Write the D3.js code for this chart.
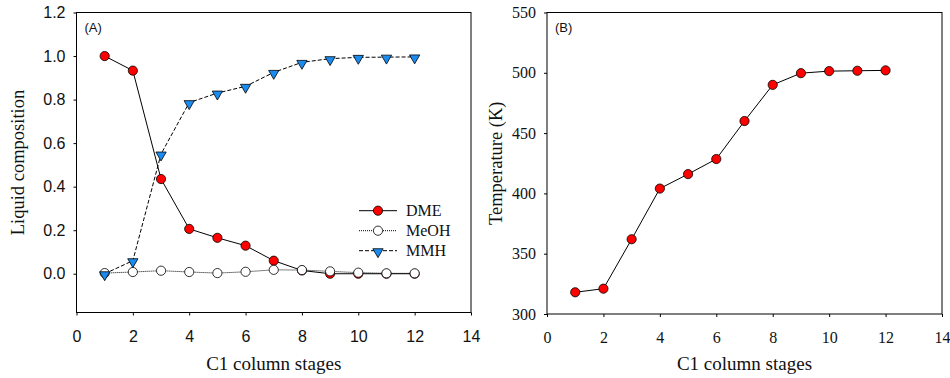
<!DOCTYPE html>
<html>
<head>
<meta charset="utf-8">
<script src="https://cdn.jsdelivr.net/npm/d3@7"></script>
<style>
  body { margin: 0; background: #fff; }
  svg { display: block; }
  .serif { font-family: "Liberation Serif", "Times New Roman", serif; }
  .sans { font-family: "Liberation Sans", Arial, sans-serif; }
</style>
</head>
<body>
<div id="chart"></div>
<script>
// stages on the C1 column
var stages = [1, 2, 3, 4, 5, 6, 7, 8, 9, 10, 11, 12];

// (A) liquid composition
var dme  = [1.0, 0.933, 0.435, 0.206, 0.165, 0.129, 0.060, 0.015, 0.0, 0.0, 0.0, 0.0];
var meoh = [0.003, 0.008, 0.014, 0.008, 0.003, 0.009, 0.018, 0.017, 0.011, 0.005, 0.002, 0.002];
var mmh  = [0.0, 0.060, 0.550, 0.786, 0.830, 0.861, 0.925, 0.971, 0.988, 0.994, 0.995, 0.996];

// (B) temperature, K
var temperature = [318, 321, 362, 404, 416, 428.5, 460, 490, 499.7, 501.4, 501.7, 502];

var xTicks = [0, 2, 4, 6, 8, 10, 12, 14];
var compTicks = [0.0, 0.2, 0.4, 0.6, 0.8, 1.0, 1.2];
var tempTicks = [300, 350, 400, 450, 500, 550];

var W = 950, H = 378;
var svg = d3.select("#chart").append("svg").attr("width", W).attr("height", H);

function toPts(ys) {
    return stages.map(function (s, i) { return { x: s, y: ys[i] }; });
}

function panel(opt) {
    var x = d3.scaleLinear().domain([0, 14]).range([opt.left, opt.right]);
    var y = d3.scaleLinear().domain(opt.yDomain).range([opt.bottom, opt.top]);

    var g = svg.append("g");

    // frame
    g.append("rect")
        .attr("x", opt.left).attr("y", opt.top)
        .attr("width", opt.right - opt.left).attr("height", opt.bottom - opt.top)
        .attr("fill", "none").attr("stroke", "#000").attr("stroke-width", 1);

    var xAxis = g.append("g")
        .attr("transform", "translate(0," + opt.bottom + ")")
        .call(d3.axisBottom(x).tickValues(xTicks).tickSize(3).tickPadding(12)
            .tickFormat(d3.format("d")));
    var yAxis = g.append("g")
        .attr("transform", "translate(" + opt.left + ",0)")
        .call(d3.axisLeft(y).tickValues(opt.yTicks).tickSize(3).tickPadding(8)
            .tickFormat(opt.yFormat));

    [xAxis, yAxis].forEach(function (a) {
        a.select(".domain").remove();
        a.selectAll("line").attr("stroke", "#000");
        a.selectAll("text")
            .attr("class", opt.tickClass)
            .attr("fill", "#111")
            .style("font-size", "16px");
    });
    xAxis.selectAll("text").attr("dy", "0.9em");

    g.append("text")
        .attr("class", "serif")
        .attr("x", (opt.left + opt.right) / 2)
        .attr("y", 370)
        .attr("text-anchor", "middle")
        .style("font-size", "19px")
        .attr("fill", "#111")
        .text("C1 column stages");

    g.append("text")
        .attr("class", "serif")
        .attr("transform", "translate(" + opt.yLabelX + "," + ((opt.top + opt.bottom) / 2) + ") rotate(-90)")
        .attr("text-anchor", "middle")
        .attr("dy", "0.35em")
        .style("font-size", "18.5px")
        .attr("fill", "#111")
        .text(opt.yLabel);

    g.append("text")
        .attr("class", "sans")
        .attr("x", opt.left + 8)
        .attr("y", opt.top + 19)
        .style("font-size", "13px")
        .attr("fill", "#111")
        .text(opt.tag);

    return { g: g, x: x, y: y };
}

var line = function (p) {
    return d3.line().x(function (d) { return p.x(d.x); }).y(function (d) { return p.y(d.y); });
};

var triangle = d3.symbol().type(d3.symbolTriangle).size(46);

function drawSeries(p, ys, s) {
    var pts = toPts(ys);
    p.g.append("path")
        .datum(pts)
        .attr("d", line(p))
        .attr("fill", "none")
        .attr("stroke", "#000")
        .attr("stroke-width", 1)
        .attr("stroke-dasharray", s.dash || null);

    if (s.shape === "tri") {
        p.g.selectAll(null).data(pts).enter().append("path")
            .attr("d", triangle)
            .attr("transform", function (d) { return "translate(" + p.x(d.x) + "," + (p.y(d.y) + 1) + ") rotate(180)"; })
            .attr("fill", s.fill).attr("stroke", "#000").attr("stroke-width", 0.8);
    } else {
        p.g.selectAll(null).data(pts).enter().append("circle")
            .attr("cx", function (d) { return p.x(d.x); })
            .attr("cy", function (d) { return p.y(d.y); })
            .attr("r", 4.6)
            .attr("fill", s.fill).attr("stroke", "#000").attr("stroke-width", 0.8);
    }
}

// Panel A
var pA = panel({
    left: 76.5, right: 471, top: 12.5, bottom: 312.5,
    yDomain: [-0.178, 1.2], yTicks: compTicks, yFormat: d3.format(".1f"),
    tickClass: "sans", yLabel: "Liquid composition", yLabelX: 18, tag: "(A)"
});

var seriesA = [
    { name: "DME", data: dme, fill: "#ff0000", shape: "circle", dash: null },
    { name: "MeOH", data: meoh, fill: "#ffffff", shape: "circle", dash: "1,1" },
    { name: "MMH", data: mmh, fill: "#1a8cf0", shape: "tri", dash: "4,2" }
];
seriesA.forEach(function (s) { drawSeries(pA, s.data, s); });

// legend
var leg = pA.g.append("g");
seriesA.forEach(function (s, i) {
    var yy = 210.7 + i * 20;
    leg.append("line")
        .attr("x1", 359).attr("x2", 397).attr("y1", yy).attr("y2", yy)
        .attr("stroke", "#000").attr("stroke-width", 1)
        .attr("stroke-dasharray", s.dash);
    if (s.shape === "tri") {
        leg.append("path").attr("d", triangle)
            .attr("transform", "translate(378," + (yy + 1) + ") rotate(180)")
            .attr("fill", s.fill).attr("stroke", "#000").attr("stroke-width", 0.8);
    } else {
        leg.append("circle").attr("cx", 378).attr("cy", yy).attr("r", 4.6)
            .attr("fill", s.fill).attr("stroke", "#000").attr("stroke-width", 0.8);
    }
    leg.append("text")
        .attr("class", "serif")
        .attr("x", 406).attr("y", yy)
        .attr("dy", "0.35em")
        .style("font-size", "16px")
        .attr("fill", "#111")
        .text(s.name);
});

// Panel B
var pB = panel({
    left: 547, right: 942, top: 12.5, bottom: 314,
    yDomain: [300, 550], yTicks: tempTicks, yFormat: d3.format("d"),
    tickClass: "serif", yLabel: "Temperature (K)", yLabelX: 496, tag: "(B)"
});
drawSeries(pB, temperature, { fill: "#ff0000", shape: "circle", dash: null });
</script>
</body>
</html>
